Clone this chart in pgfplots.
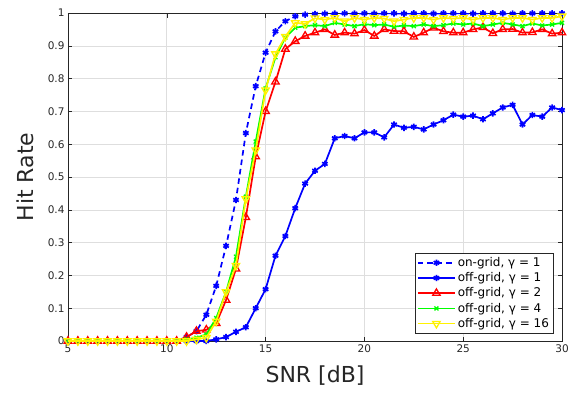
\documentclass[border=0pt]{standalone}
\usepackage{fontspec}
\setmainfont{DejaVu Sans}
\usepackage{pgfplots}
\pgfplotsset{compat=1.18}
\usepackage{pgfplotstable}
\definecolor{axgray}{rgb}{0.15,0.15,0.15}
\definecolor{gridgray}{rgb}{0.87,0.87,0.87}
\pgfplotstableread{
x og b1 r2 g4 y16
5 0 0 0 0 0
5.5 0 0 0 0 0
6 0 0 0 0 0
6.5 0 0 0 0 0
7 0 0 0 0 0
7.5 0 0 0 0 0
8 0 0 0 0 0
8.5 0 0 0 0 0
9 0 0 0 0 0
9.5 0 0 0 0 0
10 0 0 0 0 0
10.5 0 0 0 0 0
11 0.012 0 0.012 0.005 0
11.5 0.03 0 0.03 0.01 0.005
12 0.08 0 0.034 0.02 0.01
12.5 0.168 0.005 0.054 0.07 0.06
13 0.29 0.012 0.125 0.15 0.15
13.5 0.43 0.028 0.22 0.257 0.23
14 0.634 0.042 0.377 0.44 0.433
14.5 0.777 0.10 0.562 0.608 0.582
15 0.879 0.158 0.70 0.77 0.765
15.5 0.944 0.26 0.79 0.865 0.875
16 0.975 0.32 0.89 0.925 0.928
16.5 0.99 0.405 0.914 0.955 0.97
17 0.995 0.48 0.93 0.96 0.967
17.5 0.997 0.519 0.94 0.963 0.984
18 0.998 0.54 0.95 0.96 0.98
18.5 0.998 0.618 0.933 0.97 0.985
19 0.999 0.625 0.94 0.965 0.975
19.5 0.998 0.618 0.937 0.96 0.985
20 0.999 0.636 0.948 0.966 0.98
20.5 0.998 0.636 0.93 0.963 0.985
21 0.999 0.621 0.95 0.965 0.983
21.5 0.999 0.66 0.945 0.958 0.975
22 0.998 0.65 0.944 0.962 0.98
22.5 0.999 0.653 0.927 0.96 0.985
23 0.999 0.645 0.94 0.965 0.985
23.5 0.998 0.66 0.955 0.96 0.98
24 0.999 0.673 0.944 0.963 0.985
24.5 0.999 0.69 0.94 0.968 0.983
25 0.999 0.684 0.94 0.965 0.985
25.5 0.998 0.687 0.95 0.968 0.98
26 0.999 0.676 0.956 0.96 0.985
26.5 0.999 0.694 0.938 0.965 0.985
27 0.999 0.712 0.95 0.97 0.98
27.5 0.998 0.72 0.951 0.965 0.985
28 0.999 0.66 0.94 0.96 0.985
28.5 0.999 0.689 0.941 0.968 0.98
29 0.999 0.684 0.95 0.962 0.985
29.5 0.999 0.712 0.937 0.965 0.985
30 0.999 0.704 0.94 0.97 0.99
}\datatable
\begin{document}
\begin{tikzpicture}
\begin{axis}[
  scale only axis,
  width=494pt, height=328pt,
  xmin=5, xmax=30, ymin=0, ymax=1,
  xtick={5,10,15,20,25,30},
  ytick={0,0.1,0.2,0.3,0.4,0.5,0.6,0.7,0.8,0.9,1},
  /pgf/number format/assume math mode=true,
  tick label style={font=\fontsize{10.5}{12}\selectfont, text=axgray},
  yticklabel style={/pgf/number format/fixed},
  tick align=inside,
  major tick length=4.5pt,
  tick style={axgray, line width=0.5pt},
  axis line style={axgray, line width=0.7pt},
  grid=major,
  major grid style={gridgray, line width=0.6pt},
  xlabel={SNR [dB]},
  ylabel={Hit Rate},
  label style={font=\fontsize{22}{26}\selectfont, text=axgray},
  xlabel style={at={(axis description cs:0.5,-0.104)}, anchor=center},
  ylabel style={at={(axis description cs:-0.087,0.5)}, anchor=center},
  clip mode=individual,
  legend style={
    at={(rel axis cs:0.982,0.024)}, anchor=south east,
    draw=axgray, fill=white,
    font=\fontsize{12}{13}\selectfont,
    row sep=0.6pt, inner sep=2pt,
  },
  legend cell align=left,
  legend image code/.code={%
    \draw[mark repeat=2,mark phase=2] plot coordinates {(0pt,0pt) (18.5pt,0pt) (37pt,0pt)};},
]
\coordinate (bl) at (rel axis cs:0,0);
\coordinate (tr) at (rel axis cs:1,1);
\addplot[blue, line width=1.7pt, dash pattern=on 5.5pt off 4pt, mark=asterisk, mark size=3.2pt, mark options={solid, line width=1.7pt}] table[x=x, y=og] {\datatable};
\addlegendentry{on-grid, γ = 1}
\addplot[blue, line width=1.7pt, mark=asterisk, mark size=3.2pt, mark options={solid, line width=1.7pt}] table[x=x, y=b1] {\datatable};
\addlegendentry{off-grid, γ = 1}
\addplot[red, line width=1.7pt, mark=triangle, mark size=4.3pt, mark options={solid, line width=1.3pt}] table[x=x, y=r2] {\datatable};
\addlegendentry{off-grid, γ = 2}
\addplot[green, line width=1.7pt, mark=x, mark size=2.8pt, mark options={solid, line width=1.3pt}] table[x=x, y=g4] {\datatable};
\addlegendentry{off-grid, γ = 4}
\addplot[yellow, line width=1.7pt, mark=triangle, mark size=4.3pt, mark options={solid, rotate=180, line width=1.3pt}] table[x=x, y=y16] {\datatable};
\addlegendentry{off-grid, γ = 16}
\end{axis}
\path ([shift={(-68pt,-51pt)}]bl) rectangle ([shift={(11pt,13pt)}]tr);
\end{tikzpicture}
\end{document}
